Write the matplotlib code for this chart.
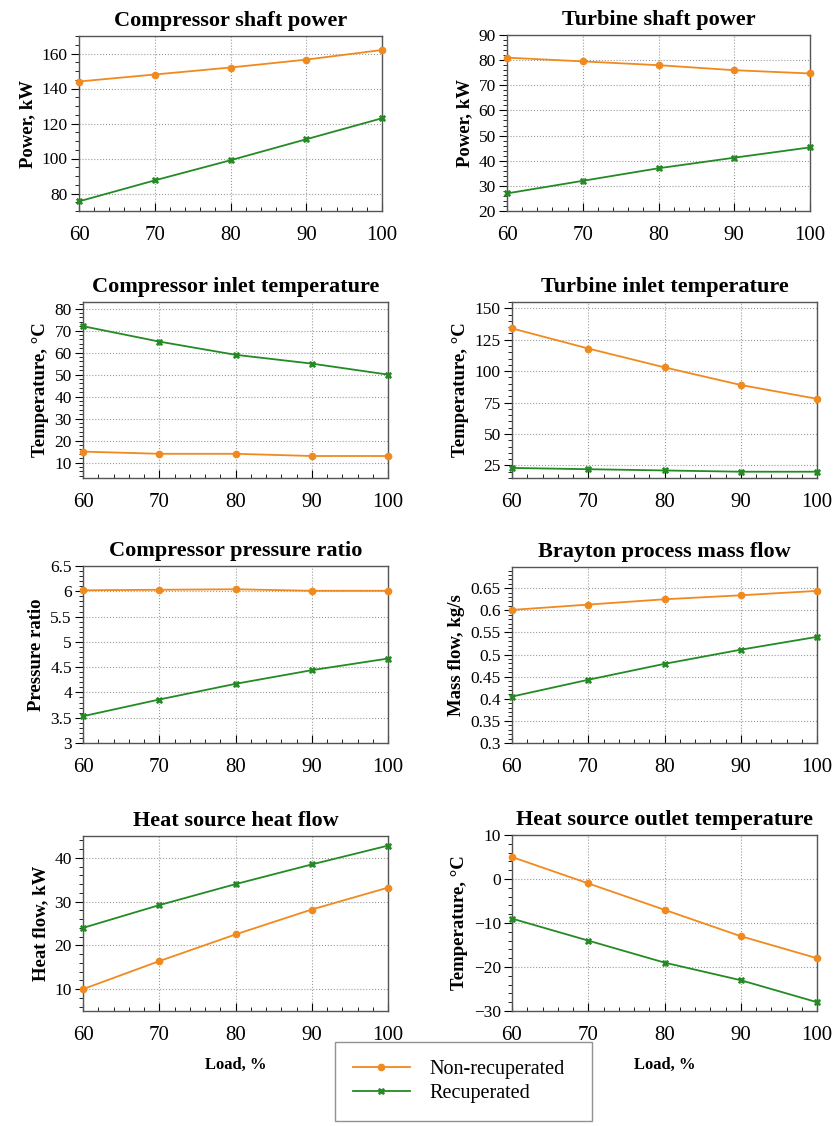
import matplotlib
matplotlib.use('Agg')
import matplotlib.pyplot as plt
from matplotlib.ticker import MultipleLocator, AutoMinorLocator, FuncFormatter

load = [60, 70, 80, 90, 100]

comp_power_nr = [144, 148, 152, 156.5, 162]
comp_power_r = [75.5, 87.5, 99, 111, 123]
turb_power_nr = [81, 79.5, 78, 76, 74.7]
turb_power_r = [27, 32, 37, 41.2, 45.3]
comp_in_temp_nr = [15, 14, 14, 13, 13]
comp_in_temp_r = [72, 65, 59, 55, 50]
turb_in_temp_nr = [134, 118, 103, 89, 78]
turb_in_temp_r = [23, 22, 21, 20, 20]
press_ratio_nr = [6.02, 6.03, 6.04, 6.01, 6.01]
press_ratio_r = [3.53, 3.86, 4.17, 4.44, 4.67]
mass_flow_nr = [0.601, 0.613, 0.625, 0.634, 0.644]
mass_flow_r = [0.405, 0.443, 0.479, 0.511, 0.540]
heat_flow_nr = [10, 16.4, 22.5, 28.2, 33.2]
heat_flow_r = [24, 29.2, 34, 38.5, 42.8]
hs_out_temp_nr = [5, -1, -7, -13, -18]
hs_out_temp_r = [-9, -14, -19, -23, -28]

titles = ['Compressor shaft power', 'Turbine shaft power',
          'Compressor inlet temperature', 'Turbine inlet temperature',
          'Compressor pressure ratio', 'Brayton process mass flow',
          'Heat source heat flow', 'Heat source outlet temperature']
ylabels = ['Power, kW', 'Power, kW', 'Temperature, °C', 'Temperature, °C',
           'Pressure ratio', 'Mass flow, kg/s', 'Heat flow, kW', 'Temperature, °C']
series_nr = [comp_power_nr, turb_power_nr, comp_in_temp_nr, turb_in_temp_nr,
             press_ratio_nr, mass_flow_nr, heat_flow_nr, hs_out_temp_nr]
series_r = [comp_power_r, turb_power_r, comp_in_temp_r, turb_in_temp_r,
            press_ratio_r, mass_flow_r, heat_flow_r, hs_out_temp_r]
ylims = [(70, 170), (20, 90), (3, 83), (15, 155), (3, 6.5), (0.3, 0.698), (5, 45), (-30, 10)]
ysteps = [20, 10, 10, 25, 0.5, 0.05, 10, 10]

# axes boxes in pixels: left, top, right, bottom
boxes = [(79, 36, 382, 211), (507, 35, 810, 211),
         (83, 302, 388, 478), (512, 302, 817, 478),
         (83, 566, 388, 743), (512, 567, 817, 743),
         (83, 836, 388, 1011), (512, 835, 817, 1011)]

W, H = 834, 1126
plt.rcParams['font.family'] = ['Liberation Serif', 'DejaVu Serif']
fig = plt.figure(figsize=(W / 100, H / 100), dpi=100)

orange = '#F08A1E'
green = '#248A24'

for i in range(8):
    l, t, r, b = boxes[i]
    ax = fig.add_axes([l / W, 1 - b / H, (r - l) / W, (b - t) / H])
    ax.plot(load, series_nr[i], color=orange, marker='o', markersize=4.5, lw=1.3,
            label='Non-recuperated', clip_on=False, zorder=3)
    ax.plot(load, series_r[i], color=green, marker='X', markersize=5, lw=1.3,
            markeredgewidth=0.5, label='Recuperated', clip_on=False, zorder=3)
    ax.set_xlim(60, 100)
    ax.set_ylim(*ylims[i])
    ax.xaxis.set_major_locator(MultipleLocator(10))
    ax.xaxis.set_minor_locator(AutoMinorLocator(5))
    ax.yaxis.set_major_locator(MultipleLocator(ysteps[i]))
    ax.yaxis.set_minor_locator(AutoMinorLocator())
    ax.yaxis.set_major_formatter(FuncFormatter(lambda v, p: f'{v:g}'.replace('-', '\u2212')))
    ax.grid(True, which='major', color='#9a9a9a', linestyle=':', linewidth=0.8)
    ax.tick_params(axis='x', which='both', direction='in', labelsize=15, pad=11)
    ax.tick_params(axis='x', which='major', length=6)
    ax.tick_params(axis='x', which='minor', length=3)
    ax.tick_params(axis='y', which='both', direction='out', labelsize=12.5, pad=2)
    ax.tick_params(axis='y', which='major', length=6)
    ax.tick_params(axis='y', which='minor', length=3)
    for s in ax.spines.values():
        s.set_color('#555555')
        s.set_linewidth(1.0)
    ax.set_title(titles[i], fontsize=16, fontweight='bold', pad=7)
    ax.set_ylabel(ylabels[i], fontsize=13.5, fontweight='bold', labelpad=4)
    if i >= 6:
        ax.set_xlabel('Load, %', fontsize=12, fontweight='bold', labelpad=8)
    if i == 0:
        handles, labels = ax.get_legend_handles_labels()

leg = fig.legend(handles, labels, loc='upper left',
                 bbox_to_anchor=(335 / W, 1 - 1053 / H, 257 / W, 0.01),
                 mode='expand', fontsize=14.5, frameon=True, fancybox=False,
                 edgecolor='#777777', handlelength=2.8, handletextpad=1.0,
                 borderpad=0.9, labelspacing=0.25, borderaxespad=0)
leg.get_frame().set_linewidth(1.0)

plt.savefig('out.png', dpi=100)
